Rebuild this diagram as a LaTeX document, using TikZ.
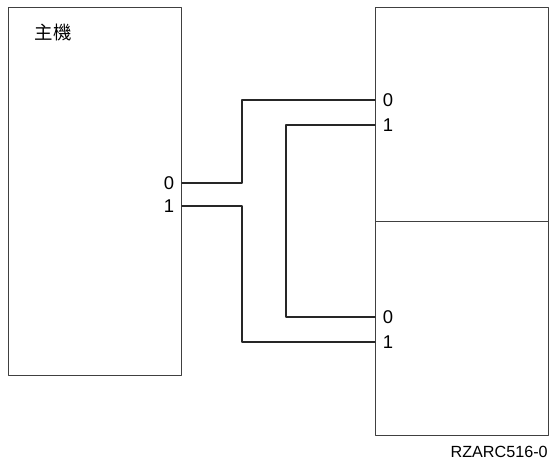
\documentclass[tikz,border=0pt]{standalone}
\usepackage{fontspec}
\setmainfont{Liberation Sans}
\newfontfamily\cjk{Noto Sans CJK TC}
\usetikzlibrary{positioning}
\tikzset{unitbox/.style={draw=black!75, line width=0.8pt, inner sep=0pt, anchor=north west, minimum width=3.46cm},
  wire/.style={draw=black!85, line width=0.6pt}}
\begin{document}
\begin{tikzpicture}[x=0.02cm, y=-0.02cm, font=\fontsize{10.5}{13}\selectfont, line join=round, line cap=round]
\useasboundingbox (0,0) rectangle (550,463);
\node[unitbox, minimum height=7.36cm] (host) at (8,7) {};
\node[unitbox, minimum height=4.28cm] (upper) at (375,7) {};
\node[unitbox, minimum height=4.28cm] (lower) at (375,221) {};
\node (hostname) at (53,33) {\cjk 主機};
\coordinate (h0) at (182,183); \coordinate (h1) at (182,206);
\coordinate (u0) at (375,100); \coordinate (u1) at (375,125);
\coordinate (l0) at (375,317); \coordinate (l1) at (375,342);
\path (h0)node[left=1pt]{0} (h1)node[left=1pt]{1}
  (u0)node[right=1pt]{0} (u1)node[right=1pt]{1}
  (l0)node[right=1pt]{0} (l1)node[right=1pt]{1};
\draw[wire] (h0) -- ++(60,0) |- (u0);
\draw[wire] (h1) -- ++(60,0) |- (l1);
\draw[wire] (u1) -- ++(-89,0) |- (l0);
\node[anchor=east, inner sep=0pt, font=\fontsize{9.2}{11}\selectfont] (tag) at (548,452) {RZARC516-0};
\end{tikzpicture}
\end{document}
